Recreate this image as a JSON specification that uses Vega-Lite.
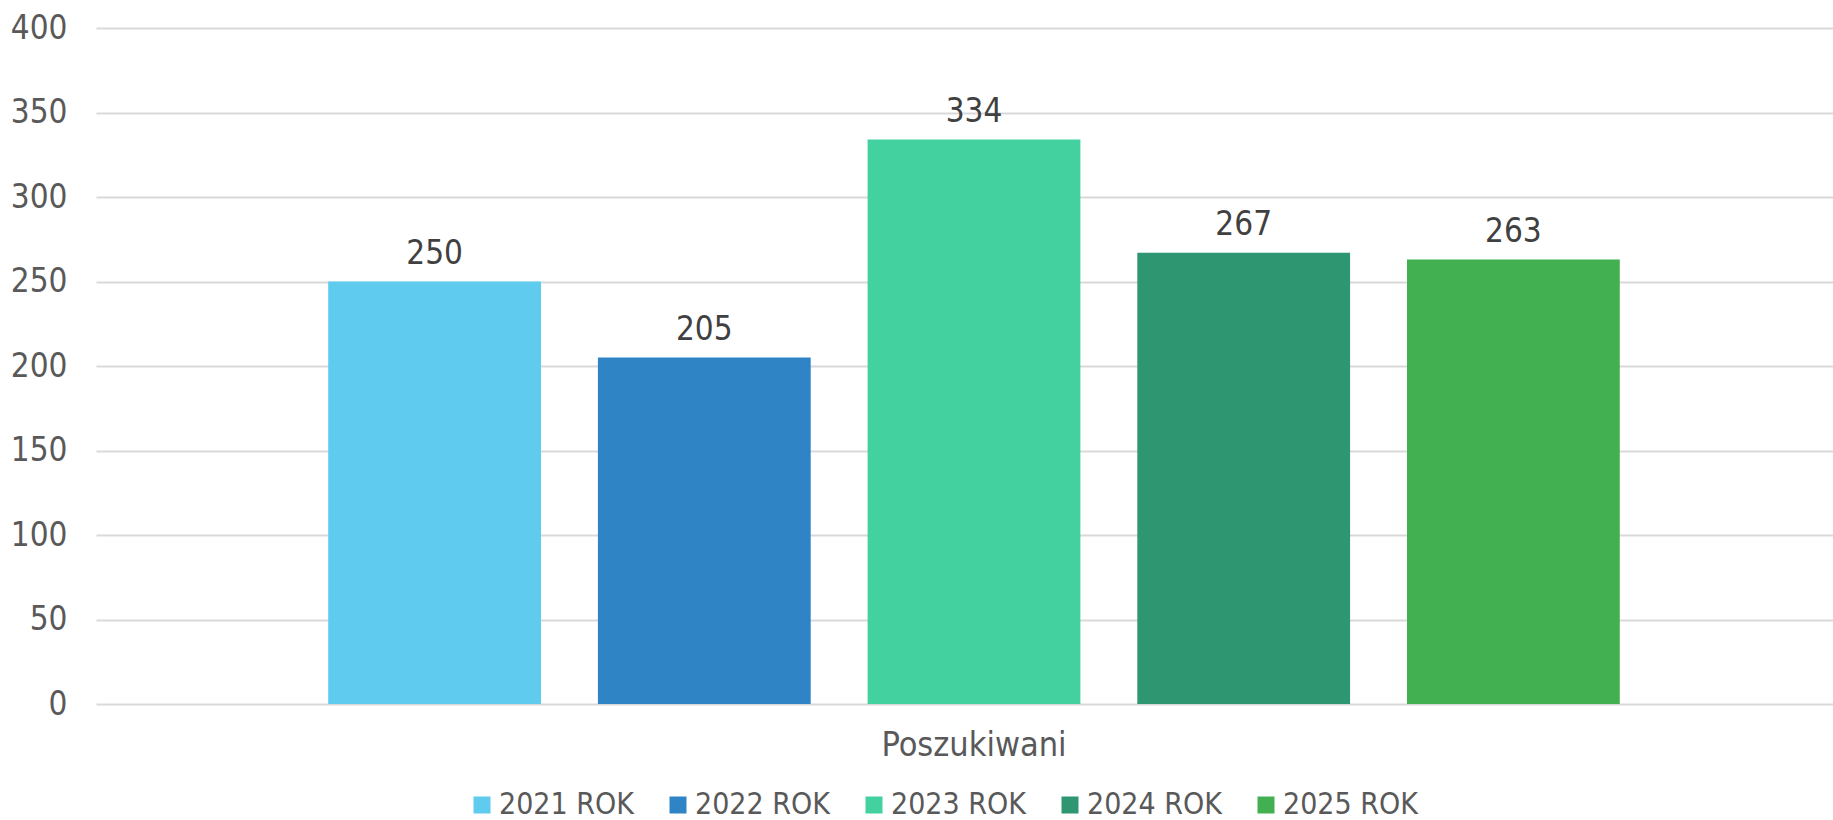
{
  "$schema": "https://vega.github.io/schema/vega-lite/v6.json",
  "autosize": "none",
  "padding": {"left": 96, "top": 28, "right": 0, "bottom": 116},
  "width": 1756,
  "height": 676,
  "background": "white",
  "data": {
    "values": [
      {"kategoria": "Poszukiwani", "rok": "2021 ROK", "liczba": 250},
      {"kategoria": "Poszukiwani", "rok": "2022 ROK", "liczba": 205},
      {"kategoria": "Poszukiwani", "rok": "2023 ROK", "liczba": 334},
      {"kategoria": "Poszukiwani", "rok": "2024 ROK", "liczba": 267},
      {"kategoria": "Poszukiwani", "rok": "2025 ROK", "liczba": 263}
    ]
  },
  "encoding": {
    "x": {
      "field": "kategoria", "type": "nominal",
      "scale": {"paddingInner": 0, "paddingOuter": 0},
      "axis": {
        "title": null, "domain": false, "ticks": false, "labelAngle": 0,
        "labelFontSize": 34, "labelColor": "#595959", "labelLimit": 0,
        "labelBaseline": "alphabetic", "labelPadding": 51
      }
    },
    "xOffset": {
      "field": "rok", "type": "nominal",
      "scale": {"paddingInner": 0.211, "paddingOuter": 0.861}
    },
    "y": {
      "field": "liczba", "type": "quantitative",
      "scale": {"domain": [0, 400], "nice": false},
      "axis": {
        "title": null, "domain": false, "ticks": false,
        "values": [0, 50, 100, 150, 200, 250, 300, 350, 400],
        "labelFontSize": 33, "labelColor": "#595959", "labelPadding": 29,
        "gridColor": "#d9d9d9", "gridWidth": 2
      }
    }
  },
  "layer": [
    {
      "mark": {"type": "bar"},
      "encoding": {
        "color": {
          "field": "rok", "type": "nominal",
          "scale": {
            "domain": ["2021 ROK", "2022 ROK", "2023 ROK", "2024 ROK", "2025 ROK"],
            "range": ["#5fcbef", "#2e84c4", "#43d1a0", "#2e9670", "#42b050"]
          },
          "legend": {
            "title": null, "orient": "none", "direction": "horizontal",
            "legendX": 371, "legendY": 762,
            "symbolType": "square", "symbolSize": 289, "symbolStrokeWidth": 0,
            "labelFontSize": 30, "labelColor": "#595959", "labelOffset": 2,
            "columnPadding": 29
          }
        }
      }
    },
    {
      "mark": {"type": "text", "dy": -18, "baseline": "alphabetic", "fontSize": 33, "color": "#404040"},
      "encoding": {"text": {"field": "liczba", "type": "quantitative"}}
    }
  ],
  "config": {
    "view": {"stroke": null},
    "font": "DejaVu Sans Condensed"
  }
}
